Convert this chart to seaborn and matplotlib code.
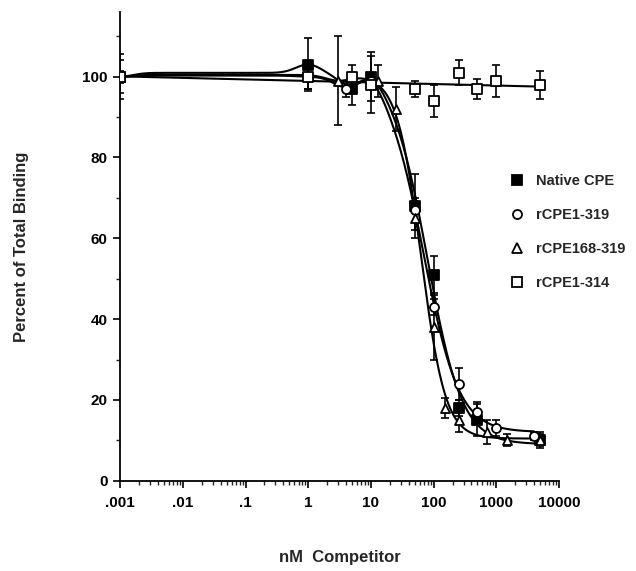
import numpy as np
import pandas as pd
import seaborn as sns
import matplotlib
matplotlib.use("Agg")
import matplotlib.pyplot as plt
from matplotlib.lines import Line2D
from matplotlib.ticker import FixedLocator, MultipleLocator, LogLocator, NullFormatter

# ---------------- data ----------------
conc_native = [0.001, 1, 5, 10, 50, 100, 250, 500, 5000]
val_native = [100, 103, 97, 100, 68, 51, 18, 15, 10]
err_native = [5.5, 6.5, 4, 6, 8, 4.5, 2, 4, 1.5]

conc_319 = [0.001, 1, 4, 10, 50, 100, 250, 500, 1000, 4000]
val_319 = [100, 100, 97, 99, 67, 43, 24, 17, 13, 11]
err_319 = [1, 3, 2, 2, 3, 2, 4, 2.5, 2, 1]

conc_168 = [0.001, 3, 13, 25, 50, 100, 150, 250, 700, 1500, 5000]
val_168 = [100, 99, 99, 92, 65, 38, 18, 15, 12, 10, 10]
err_168 = [4, 11, 4, 5.5, 3, 8, 2.5, 3, 3, 1.5, 2]

conc_314 = [0.001, 1, 5, 10, 50, 100, 250, 500, 1000, 5000]
val_314 = [100, 100, 100, 98, 97, 94, 101, 97, 99, 98]
err_314 = [1.5, 3, 3, 7, 2, 4, 3, 2.5, 4, 3.5]

series_names = ["Native CPE", "rCPE1-319", "rCPE168-319", "rCPE1-314"]
x_tick_values = [0.001, 0.01, 0.1, 1, 10, 100, 1000, 10000]
x_tick_labels = [".001", ".01", ".1", "1", "10", "100", "1000", "10000"]
y_tick_values = [0, 20, 40, 60, 80, 100]

# ---------------- curve helpers ----------------
def fit_4pl(x, y):
    lx = np.log10(np.asarray(x, float))
    y = np.asarray(y, float)
    best = None
    for lic in np.linspace(0.5, 3.5, 301):
        for h in np.linspace(0.5, 4.0, 141):
            g = 1.0 / (1.0 + 10 ** (h * (lx - lic)))
            A = np.column_stack([1 - g, g])  # bottom, top
            coef, *_ = np.linalg.lstsq(A, y, rcond=None)
            r = np.sum((A @ coef - y) ** 2)
            if best is None or r < best[0]:
                best = (r, lic, h, coef)
    _, lic, h, (bot, top) = best
    return lambda xx: bot + (top - bot) / (1 + 10 ** (h * (np.log10(xx) - lic)))

def curve(x, y, smooth_upto=10, width=0.28):
    f = fit_4pl(x, y)
    xs = np.logspace(np.log10(min(x)), np.log10(max(x)), 500)
    ys = f(xs)
    for xi, yi in zip(x, y):
        if xi <= smooth_upto:
            res = yi - f(xi)
            ys = ys + res * np.exp(-((np.log10(xs) - np.log10(xi)) / width) ** 2)
    return xs, ys

# ---------------- figure ----------------
sns.set_style("ticks")
plt.rcParams["font.family"] = ["Liberation Sans", "DejaVu Sans"]
plt.rcParams["font.weight"] = "bold"

fig = plt.figure(figsize=(6.36, 5.71), dpi=100)
ax = fig.add_axes([0.189, 0.158, 0.690, 0.821])

datasets = [
    (conc_native, val_native, err_native, "s", "black"),
    (conc_319, val_319, err_319, "o", "white"),
    (conc_168, val_168, err_168, "^", "white"),
    (conc_314, val_314, err_314, "s", "white"),
]

# fitted lines
for i, (cx, cy, ce, mk, fc) in enumerate(datasets):
    if i == 3:
        p = np.polyfit(np.log10(cx), cy, 1)
        xs = np.logspace(np.log10(min(cx)), np.log10(max(cx)), 100)
        ys = np.polyval(p, np.log10(xs))
    else:
        xs, ys = curve(cx, cy)
    sns.lineplot(x=xs, y=ys, ax=ax, color="black", lw=1.5, sort=False, zorder=2)

# error bars and markers
for cx, cy, ce, mk, fc in datasets:
    ax.errorbar(cx, cy, yerr=ce, fmt="none", ecolor="black", elinewidth=1.2,
                capsize=2.6, capthick=1.2, zorder=3)
for cx, cy, ce, mk, fc in datasets:
    df = pd.DataFrame({"x": cx, "y": cy})
    sns.scatterplot(data=df, x="x", y="y", ax=ax, marker=mk, s=42,
                    color=fc, edgecolor="black", linewidth=1.3, zorder=4)

ax.set_xscale("log")
ax.set_xlim(0.001, 10000)
ax.set_ylim(0, 116)
ax.xaxis.set_major_locator(FixedLocator(x_tick_values))
ax.set_xticklabels(x_tick_labels)
ax.xaxis.set_minor_locator(LogLocator(base=10, subs=np.arange(2, 10), numticks=20))
ax.xaxis.set_minor_formatter(NullFormatter())
ax.yaxis.set_major_locator(FixedLocator(y_tick_values))
ax.yaxis.set_minor_locator(MultipleLocator(10))
ax.set_yticklabels([str(v) for v in y_tick_values])

for s in ["top", "right"]:
    ax.spines[s].set_visible(False)
for s in ["left", "bottom"]:
    ax.spines[s].set_linewidth(1.3)
    ax.spines[s].set_color("black")

ax.tick_params(axis="both", which="major", direction="out", length=5, width=1.2,
               labelsize=11, colors="black")
ax.tick_params(axis="both", which="minor", direction="out", length=3, width=1.0)
ax.tick_params(axis="x", which="major", pad=6)
ax.tick_params(axis="y", which="major", pad=4)
for lab in ax.get_xticklabels() + ax.get_yticklabels():
    lab.set_fontweight("bold")

ax.set_xlabel("nM  Competitor", fontsize=12, fontweight="bold", labelpad=29)
ax.set_ylabel("Percent of Total Binding", fontsize=12, fontweight="bold", labelpad=38)

handles = [Line2D([], [], ls="none", marker=mk, markersize=6.5, markerfacecolor=fc,
                  markeredgecolor="black", markeredgewidth=1.3)
           for _, _, _, mk, fc in datasets]
leg = ax.legend(handles, series_names, loc="upper left", bbox_to_anchor=(0.875, 0.667),
                frameon=False, fontsize=10.5, labelspacing=1.37, handlelength=1.0,
                handletextpad=0.8, borderaxespad=0)
for t in leg.get_texts():
    t.set_fontweight("bold")
leg.set_clip_on(False)

fig.savefig("out.png", dpi=100)
